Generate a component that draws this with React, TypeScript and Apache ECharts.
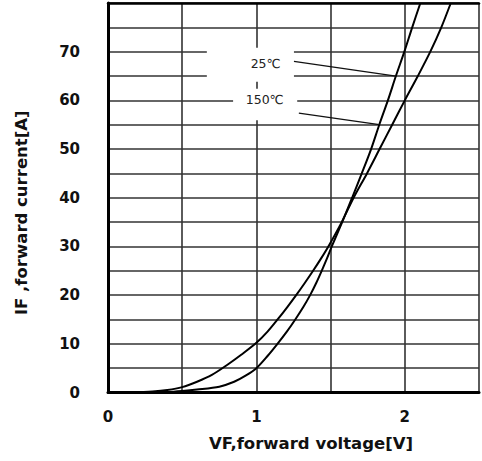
import React, { useEffect, useRef } from "react";
import * as echarts from "echarts";

// Forward voltage [V] / forward current [A]
const vf25 = [0.2, 0.4, 0.5, 0.6, 0.75, 0.85, 0.93, 1.0, 1.075, 1.142, 1.205, 1.262, 1.315, 1.362, 1.403, 1.44, 1.475, 1.508, 1.578, 1.645, 1.71, 1.773, 1.828, 1.886, 1.94, 1.997, 2.05, 2.105];
const if25 = [0, 0.1, 0.3, 0.6, 1.2, 2.2, 3.5, 5, 7.5, 10, 12.5, 15, 17.5, 20, 22.5, 25, 27.5, 30, 35, 40, 45, 50, 55, 60, 65, 70, 75, 80];

const vf150 = [0.15, 0.3, 0.4, 0.5, 0.6, 0.7, 0.8, 0.9, 1.0, 1.075, 1.143, 1.207, 1.268, 1.326, 1.382, 1.435, 1.485, 1.575, 1.655, 1.745, 1.83, 1.915, 2.0, 2.088, 2.172, 2.246, 2.31];
const if150 = [0, 0.2, 0.5, 1.1, 2.2, 3.6, 5.6, 7.8, 10.2, 12.5, 15, 17.5, 20, 22.5, 25, 27.5, 30, 35, 40, 45, 50, 55, 60, 65, 70, 75, 80];

const xMin = 0;
const xMax = 2.5;
const xStep = 0.5;
const yMin = 0;
const yMax = 80;
const yStep = 5;

// annotation labels [V, A]
const labelNames = ["25℃", "150℃"];
const labelAt = [[1.062, 67.6], [1.056, 60.2]];
// leader lines: start [V, A] -> end [V, A]
const leaderFrom = [[1.253, 68.0], [1.286, 57.4]];
const leaderTo = [[1.94, 65], [1.828, 55]];
// white boxes behind labels: [V1, A1, V2, A2]
const boxes = [[0.666, 70.8, 1.253, 63.8], [0.843, 62.4, 1.275, 55.9]];

const toPairs = (xs: number[], ys: number[]) => xs.map((x, i) => [x, ys[i]]);

export default function App() {
  const ref = useRef<HTMLDivElement>(null);
  useEffect(() => {
    if (!ref.current) return;
    const chart = echarts.init(ref.current, undefined, { renderer: "svg" });
    const tickFont = { fontFamily: "DejaVu Sans", fontWeight: "bold" as const, fontSize: 15, color: "#111" };
    const nameFont = { fontFamily: "DejaVu Sans", fontWeight: "bold" as const, fontSize: 16.5, color: "#111" };
    chart.setOption({
      animation: false,
      backgroundColor: "#fff",
      grid: { left: 108, right: -3, top: 3, bottom: 68.5 },
      xAxis: [
        {
          type: "value",
          min: xMin,
          max: xMax,
          interval: xStep,
          axisLine: { show: true, lineStyle: { color: "#000", width: 3 } },
          axisTick: { show: false },
          splitLine: { show: true, lineStyle: { color: "#333", width: 1.6 } },
          axisLabel: {
            ...tickFont,
            margin: 17,
            formatter: (v: number) => (Number.isInteger(v) ? String(v) : ""),
          },
          name: "VF,forward voltage[V]",
          nameLocation: "middle",
          nameGap: 42,
          nameTextStyle: { ...nameFont, padding: [0, 0, 0, 35] },
        },
        {
          type: "value",
          position: "top",
          min: xMin,
          max: xMax,
          interval: xStep,
          axisLine: { show: true, onZero: false, lineStyle: { color: "#000", width: 2.5 } },
          axisTick: { show: false },
          axisLabel: { show: false },
          splitLine: { show: false },
        },
      ],
      yAxis: {
        type: "value",
        min: yMin,
        max: yMax,
        interval: yStep,
        axisLine: { show: true, lineStyle: { color: "#000", width: 3 } },
        axisTick: { show: false },
        splitLine: { show: true, lineStyle: { color: "#333", width: 1.6 } },
        axisLabel: {
          ...tickFont,
          margin: 28,
          formatter: (v: number) => (v % 10 === 0 && v < yMax ? String(v) : ""),
        },
        name: "IF ,forward current[A]",
        nameLocation: "middle",
        nameGap: 78,
        nameTextStyle: { ...nameFont, padding: [0, 30, 0, 0] },
      },
      series: [
        {
          type: "line",
          name: "25℃",
          data: toPairs(vf25, if25),
          smooth: 0.3,
          symbol: "none",
          lineStyle: { color: "#000", width: 2 },
          z: 3,
          markArea: {
            silent: true,
            itemStyle: { color: "#fff", borderWidth: 0 },
            data: boxes.map((b) => [{ coord: [b[0], b[1]] }, { coord: [b[2], b[3]] }]),
          },
          markLine: {
            silent: true,
            symbol: ["none", "none"],
            label: { show: false },
            lineStyle: { color: "#111", width: 1.3, type: "solid" },
            data: leaderFrom.map((p, i) => [{ coord: p }, { coord: leaderTo[i] }]),
          },
          markPoint: {
            silent: true,
            symbol: "circle",
            symbolSize: 1,
            itemStyle: { color: "rgba(0,0,0,0)" },
            label: {
              show: true,
              position: "inside",
              fontFamily: "DejaVu Sans",
              fontSize: 12.5,
              color: "#222",
              formatter: (p: any) => p.name,
            },
            data: labelAt.map((c, i) => ({ name: labelNames[i], coord: c })),
          },
        },
        {
          type: "line",
          name: "150℃",
          data: toPairs(vf150, if150),
          smooth: 0.3,
          symbol: "none",
          lineStyle: { color: "#000", width: 2 },
          z: 3,
        },
      ],
    });
    return () => chart.dispose();
  }, []);
  return <div ref={ref} style={{ position: "fixed", left: 0, top: 0, width: 482, height: 461 }} />;
}
